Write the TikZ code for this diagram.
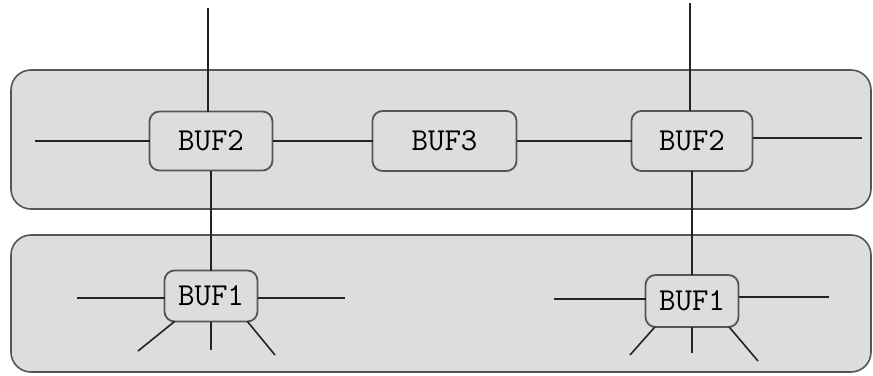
\documentclass[tikz,border=0pt]{standalone}
\usepackage{fontspec}
\usetikzlibrary{positioning}
\definecolor{panelgray}{RGB}{221,221,221}
\definecolor{edgegray}{RGB}{85,85,85}
\definecolor{wiregray}{RGB}{35,35,35}
\tikzset{
  panel/.style={draw=edgegray, fill=panelgray, line width=1.6pt, rounded corners=20pt},
  buf/.style={rectangle, rounded corners=10pt, draw=edgegray, fill=panelgray, line width=1.8pt, inner sep=0pt, outer sep=0pt, text centered, font=\ttfamily\fontsize{32}{35}\selectfont},
  wire/.style={draw=wiregray, line width=1.6pt}
}

\begin{document}
\begin{tikzpicture}[x=1pt, y=-1pt]
    \useasboundingbox (0,0) rectangle (873,375);

    % the two bands
    \draw[panel] (11,70) rectangle (871,209);
    \draw[panel] (11,235) rectangle (871,372);

    % buffers
    \node (bufl) [buf, minimum width=123pt, minimum height=59pt] at (211,141) {BUF2};
    \node (bufm) [buf, minimum width=144pt, minimum height=60pt, right=100pt of bufl] {BUF3};
    \node (bufr) [buf, minimum width=121pt, minimum height=60pt, right=115pt of bufm] {BUF2};
    \node (leafl) [buf, minimum width=93pt, minimum height=51pt, below=100pt of bufl] {BUF1};
    \node (leafr) [buf, minimum width=93pt, minimum height=52pt, below=104pt of bufr] {BUF1};

    % free wire ends
    \coordinate (topl) at (208,8);
    \coordinate (topr) at (690,3);
    \coordinate (inl) at (35,141);
    \coordinate (outr) at (862,138);
    \coordinate (ll) at (77,298);
    \coordinate (lr) at (345,298);
    \coordinate (ld) at (209,350);
    \coordinate (lsw) at (138,351);
    \coordinate (lse) at (275,355);
    \coordinate (rl) at (554,299);
    \coordinate (rr) at (829,297);
    \coordinate (rd) at (691,353);
    \coordinate (rsw) at (630,355);
    \coordinate (rse) at (758,361);

    % upper band
    \draw[wire] (topl) -- (topl |- bufl.north);
    \draw[wire] (topr) -- (topr |- bufr.north);
    \draw[wire] (inl) -- (inl -| bufl.west);
    \draw[wire] (bufl) -- (bufm);
    \draw[wire] (bufm) -- (bufr);
    \draw[wire] (outr -| bufr.east) -- (outr);

    % down to the lower band
    \draw[wire] (bufl) -- (leafl);
    \draw[wire] (bufr) -- (leafr);

    % fan-out, left
    \draw[wire] (ll) -- (ll -| leafl.west);
    \draw[wire] (lr -| leafl.east) -- (lr);
    \draw[wire] (leafl.south) -- (leafl.south |- ld);
    \draw[wire] (leafl.215) -- (lsw);
    \draw[wire] (leafl.325) -- (lse);

    % fan-out, right
    \draw[wire] (rl) -- (rl -| leafr.west);
    \draw[wire] (rr -| leafr.east) -- (rr);
    \draw[wire] (leafr.south) -- (leafr.south |- rd);
    \draw[wire] (leafr.215) -- (rsw);
    \draw[wire] (leafr.325) -- (rse);
\end{tikzpicture}
\end{document}
